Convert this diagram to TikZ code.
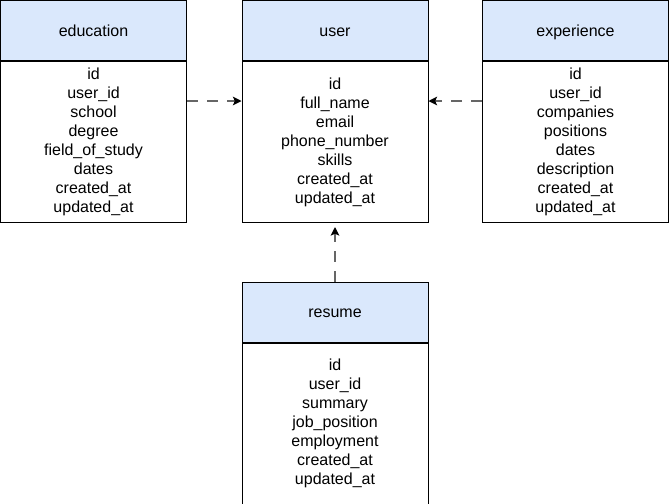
\documentclass[tikz,border=0pt]{standalone}
\usepackage{fontspec}
\setmainfont{Liberation Sans}
\usepackage{xcolor}
\usetikzlibrary{arrows.meta,positioning}
\definecolor{hdrblue}{HTML}{DAE8FC}

\begin{document}
\begin{tikzpicture}[x=0.75pt,y=-0.75pt,>=Stealth,
    hdr/.style={draw,fill=hdrblue,line width=0.75pt,minimum width=139.5pt,minimum height=45pt,
      inner sep=0pt,text height=10.5pt,text depth=2pt,font=\fontsize{12}{14.25}\selectfont},
    tbl/.style={draw,line width=0.75pt,minimum width=139.5pt,minimum height=120.75pt,
      inner sep=0pt,align=center,font=\fontsize{12}{14.25}\selectfont},
    link/.style={draw=black!60,line width=0.9pt,dash pattern=on 8pt off 7pt,
      -{Stealth[black,length=6.5pt,width=6.5pt,inset=1.5pt]}}]
    \useasboundingbox (0,0) rectangle (669,504);

    % education
    \node[hdr] (eduh) at (93.5,30.5) {education};
    \node[tbl,below=0pt of eduh] (edub) {id\\user\_id\\school\\degree\\field\_of\_study\\dates\\created\_at\\updated\_at};

    % user
    \node[hdr] (userh) at (335,30.5) {user};
    \node[tbl,below=0pt of userh] (userb) {id\\full\_name\\email\\phone\_number\\skills\\created\_at\\updated\_at};

    % experience
    \node[hdr] (exph) at (575.5,30.5) {experience};
    \node[tbl,below=0pt of exph] (expb) {id\\user\_id\\companies\\positions\\dates\\description\\created\_at\\updated\_at};

    % resume
    \node[hdr] (resh) at (335,312) {resume};
    \node[tbl,below=0pt of resh] (resb) {id\\user\_id\\summary\\job\_position\\employment\\created\_at\\updated\_at};

    % links
    \draw[link] ([yshift=30.75pt]edub.east) -- ([yshift=30.75pt]userb.west);
    \draw[link] ([yshift=30.75pt]expb.west) -- ([yshift=30.75pt]userb.east);
    \draw[link,shorten >=3pt] (resh.north) -- (userb.south);
  \end{tikzpicture}
\end{document}
